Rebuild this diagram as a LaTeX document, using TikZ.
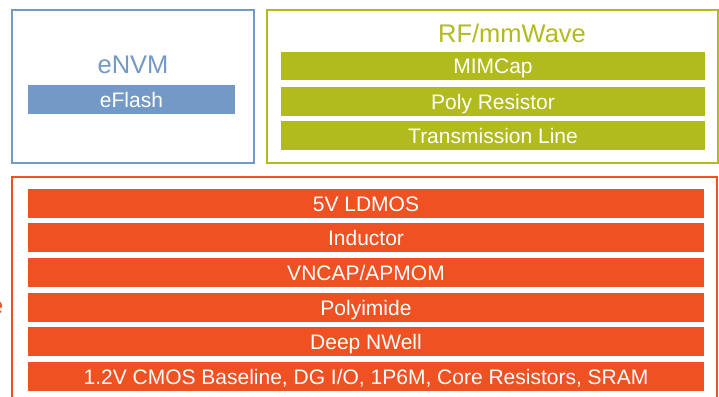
\documentclass[tikz,border=0pt]{standalone}
\usepackage{fontspec}
\setmainfont{Liberation Sans}
\definecolor{nvmblue}{RGB}{115,153,198}
\definecolor{rfgreen}{RGB}{178,187,30}
\definecolor{cmosorange}{RGB}{240,81,35}
\tikzset{
  groupbox/.style={draw, line width=2pt, fill=white},
  barbox/.style={inner sep=0pt, text=white, font=\fontsize{21}{22}\selectfont, text height=15pt, text depth=0pt, minimum height=29pt},
  titletext/.style={inner sep=0pt, anchor=base, font=\fontsize{25.5}{27}\selectfont},
}
\begin{document}
\begin{tikzpicture}[x=1pt,y=-1pt]
\useasboundingbox (0,0) rectangle (719,396);
% eNVM group
\node[groupbox, draw=nvmblue, minimum width=242pt, minimum height=153pt] (nvm) at (133,86.5) {};
\node[titletext, text=nvmblue] (nvmt) at (133,73) {eNVM};
\node[barbox, fill=nvmblue, minimum width=207pt] (eflash) at (131.5,99.5) {eFlash};
% RF group
\node[groupbox, draw=rfgreen, minimum width=451pt, minimum height=153pt] (rf) at (492.5,86.5) {};
\node[titletext, text=rfgreen] (rft) at (512,42) {RF/mmWave};
\node[barbox, fill=rfgreen, minimum width=424pt, minimum height=28pt] (mim) at (493,66) {MIMCap};
\node[barbox, fill=rfgreen, minimum width=424pt] (poly) at (493,101.5) {Poly Resistor};
\node[barbox, fill=rfgreen, minimum width=424pt] (tl) at (493,135.5) {Transmission Line};
% CMOS group
\draw[line width=2pt, draw=cmosorange] (12,405) -- (12,177) -- (717,177) -- (717,405);
\node[titletext, anchor=base east, text=cmosorange] (frag) at (3.5,314) {e};
\node[barbox, fill=cmosorange, minimum width=676pt] (ld) at (366,203.5) {5V LDMOS};
\node[barbox, fill=cmosorange, minimum width=676pt] (ind) at (366,237.5) {Inductor};
\node[barbox, fill=cmosorange, minimum width=676pt] (vn) at (366,272.5) {VNCAP/APMOM};
\node[barbox, fill=cmosorange, minimum width=676pt] (pi) at (366,307.5) {Polyimide};
\node[barbox, fill=cmosorange, minimum width=676pt] (dnw) at (366,341.5) {Deep NWell};
\node[barbox, fill=cmosorange, minimum width=676pt] (base) at (366,376.5) {1.2V CMOS Baseline, DG I/O, 1P6M, Core Resistors, SRAM};
\end{tikzpicture}
\end{document}
